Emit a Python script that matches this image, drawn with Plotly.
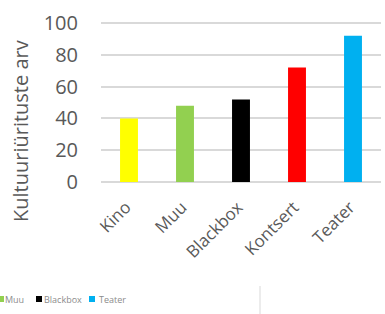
import plotly.graph_objects as go

categories = ["Kino", "Muu", "Blackbox", "Kontsert", "Teater"]
values = [40, 48, 52, 72, 92]
colors = ["#FFFF00", "#92D050", "#000000", "#FF0000", "#00B0F0"]
y_ticks = [0, 20, 40, 60, 80, 100]
y_title = "Kultuuriürituste arv"
legend_items = ["Muu", "Blackbox", "Teater"]

W, H = 385, 314
L, R, T, B = 101, 4, 22, 132
pw, ph = W - L - R, H - T - B

def px_x(p):
    return (p - L) / pw

def px_y(p):
    return (H - B - p) / ph

fig = go.Figure(go.Bar(x=categories, y=values, marker=dict(color=colors, line=dict(width=0)),
                       showlegend=False))

font = "Open Sans, Liberation Sans, sans-serif"
fig.update_layout(
    template="none",
    width=W, height=H,
    margin=dict(l=L, r=R, t=T, b=B, pad=0, autoexpand=False),
    paper_bgcolor="white", plot_bgcolor="white",
    bargap=0.68,
    font=dict(family=font, color="#595959"),
    xaxis=dict(tickangle=-45, tickfont=dict(size=17, color="#595959"), showgrid=False,
               tickmode="array", tickvals=categories,
               ticktext=[c + "\u00a0" for c in categories],
               showline=False, ticks="", ticklabelstandoff=8, automargin=False),
    yaxis=dict(range=[0, 100.7], tickmode="array", tickvals=y_ticks,
               tickfont=dict(size=20, color="#595959"),
               showgrid=True, gridcolor="#d9d9d9", gridwidth=2,
               zeroline=True, zerolinecolor="#d9d9d9", zerolinewidth=2,
               showline=False, ticks="", ticklabelstandoff=22, automargin=False),
)

annotations = [dict(text=y_title, xref="paper", yref="paper", x=px_x(20), y=px_y(131),
                    xanchor="center", yanchor="middle", textangle=-90, showarrow=False,
                    font=dict(size=20, color="#595959", family=font))]

# partial legend (cropped at the left edge)
legend_x = [-2, 36, 89]
text_x = [3, 42, 97]
shapes = []
for name, sx, tx in zip(legend_items, legend_x, text_x):
    col = colors[categories.index(name)]
    shapes.append(dict(type="rect", xref="paper", yref="paper",
                       x0=px_x(sx), x1=px_x(sx + 6), y0=px_y(302), y1=px_y(296),
                       fillcolor=col, line=dict(width=0)))
    annotations.append(dict(text=name, xref="paper", yref="paper", x=px_x(tx), y=px_y(299),
                            xanchor="left", yanchor="middle", showarrow=False,
                            font=dict(size=9, color="#8c8c8c", family=font)))
shapes.append(dict(type="line", xref="paper", yref="paper", x0=px_x(260), x1=px_x(260),
                   y0=px_y(286), y1=px_y(316), line=dict(color="#d9d9d9", width=1)))
fig.update_layout(shapes=shapes, annotations=annotations)

fig.write_html("out.html", config={"displayModeBar": False},
               post_script="document.body.style.margin='0';document.body.style.overflow='hidden';")
